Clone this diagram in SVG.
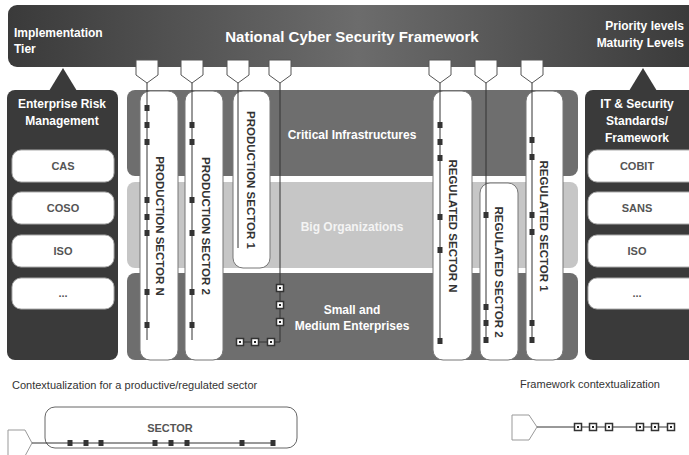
<svg xmlns="http://www.w3.org/2000/svg" width="689" height="455" viewBox="0 0 689 455">
<defs>
<linearGradient id="bar" x1="0" y1="0" x2="1" y2="0">
<stop offset="0" stop-color="#3a3a3a"/>
<stop offset="0.5" stop-color="#6c6c6c"/>
<stop offset="1" stop-color="#383838"/>
</linearGradient>
<symbol id="hsq" overflow="visible"><rect x="-3.5" y="-3.5" width="7" height="7" fill="#fff" stroke="#333" stroke-width="1.5"/><rect x="-1" y="-1" width="2" height="2" fill="#222"/></symbol>
<symbol id="fsq" overflow="visible"><rect x="-2.5" y="-3" width="5" height="6" fill="#333"/></symbol>
</defs>
<style>
text{font-family:"Liberation Sans",Arial,sans-serif}
.w{fill:#fff;font-weight:bold}
.box{fill:#fff;stroke:#aaa;stroke-width:1}
.bt{fill:#555;font-weight:bold;font-size:11px;text-anchor:middle}
.col{fill:#fff;stroke:#777;stroke-width:1}
.vt{fill:#333;font-weight:bold;font-size:11.5px;text-anchor:middle}
.ln{stroke:#333;stroke-width:1;fill:none}
.sh{fill:#fff;stroke:#555;stroke-width:1}
.cap{fill:#333;font-size:11px}
</style>
<rect width="689" height="455" fill="#fff"/>

<g id="top-bar">
<rect x="8" y="5" width="700" height="62" rx="9" fill="url(#bar)"/>
<text class="w" x="14" y="37" font-size="12">Implementation</text>
<text class="w" x="14" y="53" font-size="12">Tier</text>
<text class="w" x="352" y="42" font-size="15" text-anchor="middle">National Cyber Security Framework</text>
<text class="w" x="684" y="30" font-size="12" text-anchor="end">Priority levels</text>
<text class="w" x="684" y="47" font-size="12" text-anchor="end">Maturity Levels</text>
</g>

<g id="triangles">
<polygon points="63,68 49,91 77,91" fill="#3a3a3a"/>
<polygon points="643,68 629,91 657,91" fill="#3a3a3a"/>
</g>

<g id="erm-panel">
<rect x="7" y="90" width="111" height="270" rx="8" fill="#3a3a3a"/>
<text class="w" x="62" y="108" font-size="12" text-anchor="middle">Enterprise Risk</text>
<text class="w" x="62" y="125" font-size="12" text-anchor="middle">Management</text>
<rect class="box" x="12" y="150" width="102" height="32" rx="9"/>
<text class="bt" x="63" y="170">CAS</text>
<rect class="box" x="12" y="192" width="102" height="32" rx="9"/>
<text class="bt" x="63" y="212">COSO</text>
<rect class="box" x="12" y="235" width="102" height="32" rx="9"/>
<text class="bt" x="63" y="255">ISO</text>
<rect class="box" x="12" y="278" width="102" height="31" rx="9"/>
<text class="bt" x="63" y="297">...</text>
</g>

<g id="it-panel">
<rect x="585" y="90" width="115" height="270" rx="8" fill="#3a3a3a"/>
<text class="w" x="637" y="108" font-size="12" text-anchor="middle">IT &amp; Security</text>
<text class="w" x="637" y="125" font-size="12" text-anchor="middle">Standards/</text>
<text class="w" x="637" y="142" font-size="12" text-anchor="middle">Framework</text>
<rect class="box" x="588" y="150" width="110" height="32" rx="9"/>
<text class="bt" x="637" y="170">COBIT</text>
<rect class="box" x="588" y="192" width="110" height="32" rx="9"/>
<text class="bt" x="637" y="212">SANS</text>
<rect class="box" x="588" y="235" width="110" height="32" rx="9"/>
<text class="bt" x="637" y="255">ISO</text>
<rect class="box" x="588" y="278" width="110" height="31" rx="9"/>
<text class="bt" x="637" y="297">...</text>
</g>

<g id="bands">
<rect x="127" y="90" width="451" height="86" rx="8" fill="#6e6e6e"/>
<rect x="127" y="182" width="451" height="86" rx="8" fill="#c6c6c6"/>
<rect x="127" y="273" width="451" height="87" rx="8" fill="#6e6e6e"/>
<text class="w" x="352" y="139" font-size="12" text-anchor="middle">Critical Infrastructures</text>
<text x="352" y="231" font-size="12" text-anchor="middle" font-weight="bold" fill="#f4f4f4">Big Organizations</text>
<text class="w" x="352" y="314" font-size="12" text-anchor="middle">Small and</text>
<text class="w" x="352" y="330" font-size="12" text-anchor="middle">Medium Enterprises</text>
</g>

<g id="production-sector-n">
<rect class="col" x="140" y="91" width="38" height="269" rx="10"/>
<text class="vt" transform="translate(160,226) rotate(90)" dy="0.36em">PRODUCTION SECTOR N</text>
</g>
<g id="production-sector-2">
<rect class="col" x="185" y="91" width="38" height="269" rx="10"/>
<text class="vt" transform="translate(206,226) rotate(90)" dy="0.36em">PRODUCTION SECTOR 2</text>
</g>
<g id="production-sector-1">
<rect class="col" x="233" y="91" width="37" height="177" rx="10"/>
<text class="vt" transform="translate(251,180) rotate(90)" dy="0.36em">PRODUCTION SECTOR 1</text>
</g>
<g id="regulated-sector-n">
<rect class="col" x="433" y="91" width="39" height="269" rx="10"/>
<text class="vt" transform="translate(453,226) rotate(90)" dy="0.36em">REGULATED SECTOR N</text>
</g>
<g id="regulated-sector-2">
<rect class="col" x="480" y="183" width="38" height="177" rx="10"/>
<text class="vt" transform="translate(499,272) rotate(90)" dy="0.36em">REGULATED SECTOR 2</text>
</g>
<g id="regulated-sector-1">
<rect class="col" x="526" y="91" width="37" height="269" rx="10"/>
<text class="vt" transform="translate(544,226) rotate(90)" dy="0.36em">REGULATED SECTOR 1</text>
</g>

<g id="connectors">
<g id="shields">
<polygon class="sh" points="136,60 158,60 158,75 147,83 136,75"/>
<polygon class="sh" points="181,60 203,60 203,75 192,83 181,75"/>
<polygon class="sh" points="227,60 249,60 249,75 238,83 227,75"/>
<polygon class="sh" points="269,60 291,60 291,75 280,83 269,75"/>
<polygon class="sh" points="429,60 451,60 451,75 440,83 429,75"/>
<polygon class="sh" points="475,60 497,60 497,75 486,83 475,75"/>
<polygon class="sh" points="521,60 543,60 543,75 532,83 521,75"/>
</g>
<path class="ln" d="M147,83V340M192,83V340M238,83V248M280,83V342H237M440,83V342M486,83V342M532,83V342"/>
<use href="#fsq" x="147" y="108"/><use href="#fsq" x="147" y="125"/><use href="#fsq" x="147" y="142"/>
<use href="#fsq" x="147" y="200"/><use href="#fsq" x="147" y="217"/><use href="#fsq" x="147" y="233"/>
<use href="#fsq" x="147" y="292"/><use href="#fsq" x="147" y="325"/>
<use href="#fsq" x="192" y="125"/><use href="#fsq" x="192" y="142"/><use href="#fsq" x="192" y="200"/>
<use href="#fsq" x="192" y="233"/><use href="#fsq" x="192" y="292"/><use href="#fsq" x="192" y="325"/>
<use href="#hsq" x="280" y="288"/><use href="#hsq" x="280" y="305"/><use href="#hsq" x="280" y="322"/>
<use href="#hsq" x="240" y="342"/><use href="#hsq" x="255" y="342"/><use href="#hsq" x="271" y="342"/>
<use href="#fsq" x="440" y="125"/><use href="#fsq" x="440" y="142"/><use href="#fsq" x="440" y="158"/>
<use href="#fsq" x="440" y="217"/><use href="#fsq" x="440" y="250"/><use href="#fsq" x="440" y="341"/>
<use href="#fsq" x="486" y="215"/><use href="#fsq" x="486" y="307"/><use href="#fsq" x="486" y="323"/><use href="#fsq" x="486" y="340"/>
<use href="#fsq" x="532" y="140"/><use href="#fsq" x="532" y="157"/><use href="#fsq" x="532" y="215"/>
<use href="#fsq" x="532" y="232"/><use href="#fsq" x="532" y="323"/><use href="#fsq" x="532" y="340"/>
</g>

<g id="legend-sector">
<text class="cap" x="12" y="389">Contextualization for a productive/regulated sector</text>
<rect x="45" y="407" width="252" height="41" rx="10" fill="#fff" stroke="#666" stroke-width="1"/>
<text x="170" y="432" font-size="11" font-weight="bold" fill="#555" text-anchor="middle">SECTOR</text>
<polygon points="8,430 25,430 32,443 25,456 8,456" fill="#fff" stroke="#999" stroke-width="1"/>
<path class="ln" d="M32,443H275"/>
<use href="#fsq" x="70" y="443"/><use href="#fsq" x="86" y="443"/><use href="#fsq" x="101" y="443"/>
<use href="#fsq" x="155" y="443"/><use href="#fsq" x="171" y="443"/><use href="#fsq" x="187" y="443"/>
<use href="#fsq" x="242" y="443"/><use href="#fsq" x="273" y="443"/>
</g>

<g id="legend-framework">
<text class="cap" x="590" y="388" text-anchor="middle">Framework contextualization</text>
<polygon points="512,415 529,415 537,427 529,440 512,440" fill="#fff" stroke="#999" stroke-width="1"/>
<path class="ln" d="M537,427H672"/>
<use href="#hsq" x="578" y="427"/><use href="#hsq" x="593" y="427"/><use href="#hsq" x="609" y="427"/>
<use href="#hsq" x="640" y="427"/><use href="#hsq" x="655" y="427"/><use href="#hsq" x="671" y="427"/>
</g>
</svg>
